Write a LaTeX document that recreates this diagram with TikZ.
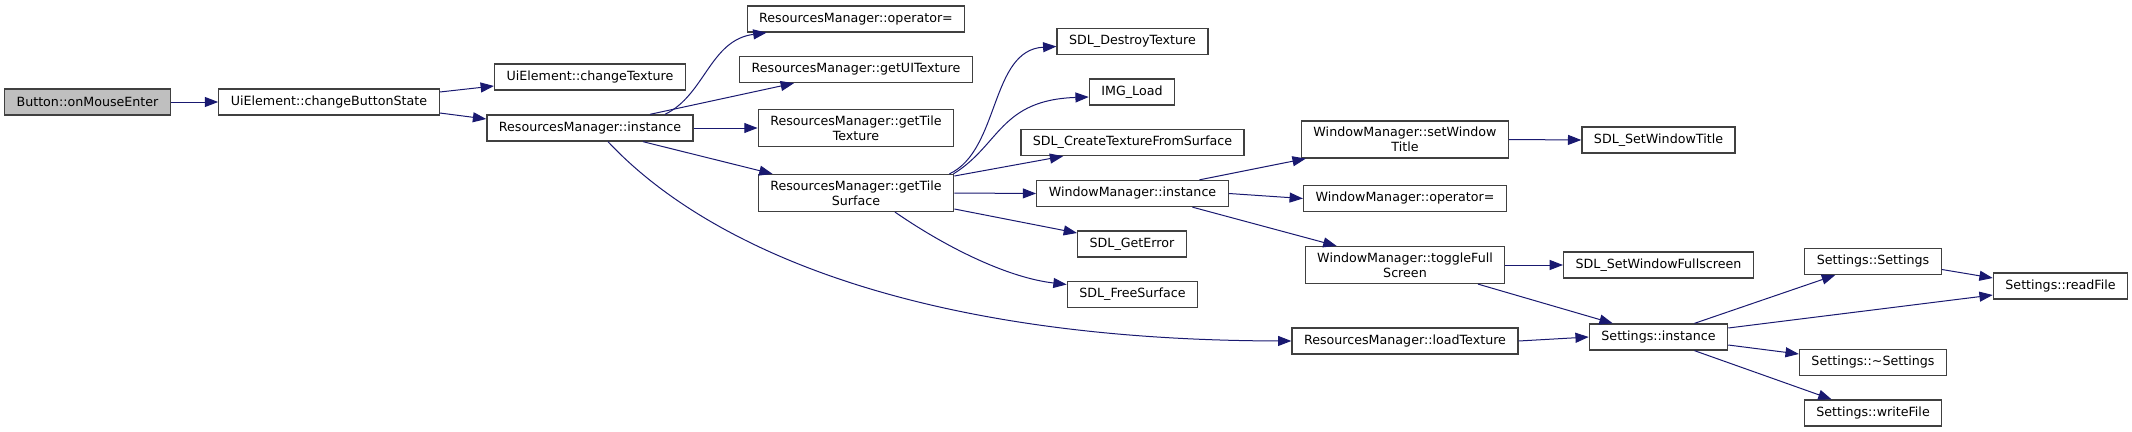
\documentclass[tikz,border=0pt]{standalone}
\usepackage{fontspec}
\setmainfont{DejaVu Sans}
\usepackage{tikz}
\usetikzlibrary{arrows.meta}
\usetikzlibrary{calc}
\definecolor{edgeblue}{HTML}{191970}
\definecolor{boxgray}{HTML}{BFBFBF}
\definecolor{boxline}{HTML}{404040}
\tikzstyle{fn} = [rectangle, draw=boxline, line width=1pt, fill=white, inner xsep=9pt, inner ysep=4.5pt, minimum height=19.5pt, align=center, font=\fontsize{9.5}{11.3}\selectfont]
\tikzstyle{cl} = [draw=edgeblue, line width=0.75pt, -{Triangle[length=10pt,width=7.5pt]}]

\begin{document}
\begin{tikzpicture}[x=0.75pt,y=-0.75pt]
				\useasboundingbox (0,0) rectangle (2132,432);
				\node[fn, fill=boxgray] (bme) at (87.5,102) {Button::onMouseEnter};
				\node[fn] (cbs) at (329,102) {UiElement::changeButtonState};
				\node[fn] (cte) at (590,77) {UiElement::changeTexture};
				\node[fn] (rmi) at (590,128) {ResourcesManager::instance};
				\node[fn] (rmo) at (856,19) {ResourcesManager::operator=};
				\node[fn] (rmu) at (856,69.5) {ResourcesManager::getUITexture};
				\node[fn] (rmt) at (856,128) {ResourcesManager::getTile\\Texture};
				\node[fn] (rms) at (856,193) {ResourcesManager::getTile\\Surface};
				\node[fn] (sdt) at (1132.5,41.5) {SDL\_DestroyTexture};
				\node[fn] (iml) at (1132,92) {IMG\_Load};
				\node[fn] (sct) at (1132.5,142.5) {SDL\_CreateTextureFromSurface};
				\node[fn] (wmi) at (1132.5,193.5) {WindowManager::instance};
				\node[fn] (sge) at (1132,244) {SDL\_GetError};
				\node[fn] (sfs) at (1132.5,294.5) {SDL\_FreeSurface};
				\node[fn] (wmt) at (1405,139.5) {WindowManager::setWindow\\Title};
				\node[fn] (wmo) at (1405,198.5) {WindowManager::operator=};
				\node[fn] (wmf) at (1405,265) {WindowManager::toggleFull\\Screen};
				\node[fn] (rml) at (1405,341) {ResourcesManager::loadTexture};
				\node[fn] (swt) at (1658.5,140) {SDL\_SetWindowTitle};
				\node[fn] (swf) at (1658.5,265) {SDL\_SetWindowFullscreen};
				\node[fn] (sin) at (1658.5,337) {Settings::instance};
				\node[fn] (sse) at (1873,261.5) {Settings::Settings};
				\node[fn] (srf) at (2060.5,286) {Settings::readFile};
				\node[fn] (sds) at (1873,362.5) {Settings::\textasciitilde Settings};
				\node[fn] (swr) at (1873,413) {Settings::writeFile};
				%%%%%%%%%%%%%%%%%%%%%%%%%%%%%%%%%%
				\draw[cl] (bme.east) -- (cbs.west);
				\draw[cl] ($(cbs.east)+(0,-10)$) -- ($(cte.west)+(0,9)$);
				\draw[cl] ($(cbs.east)+(0,11)$) -- ($(rmi.west)+(0,-9)$);
				%%%%%%%%%%%%%%%%%%%%%%%%%%%%%%%%%%
				\draw[cl] ($(rmi.north)+(75,0)$) .. controls (705,95) and (710,40) .. ($(rmo.south west)+(20,0)$);
				\draw[cl] ($(rmi.north)+(60,0)$) -- ($(rmu.south west)+(55,0)$);
				\draw[cl] (rmi.east) -- (rmt.west);
				\draw[cl] ($(rmi.south)+(53,0)$) -- ($(rms.north west)+(15,0)$);
				\draw[cl] ($(rmi.south)+(18,0)$) .. controls (700,240) and (900,340) .. (rml.west);
				%%%%%%%%%%%%%%%%%%%%%%%%%%%%%%%%%%
				\draw[cl] ($(rms.north east)+(-5,0)$) .. controls (1000,150) and (990,50) .. ($(sdt.west)+(0,5)$);
				\draw[cl] ($(rms.north east)+(-1,0)$) .. controls (1000,145) and (1000,100) .. ($(iml.west)+(0,5)$);
				\draw[cl] ($(rms.east)+(0,-17)$) -- ($(sct.south west)+(43,0)$);
				\draw[cl] (rms.east) -- (wmi.west);
				\draw[cl] ($(rms.east)+(0,16)$) -- ($(sge.west)+(0,-11)$);
				\draw[cl] ($(rms.south)+(39,0)$) .. controls (950,250) and (1010,278) .. ($(sfs.west)+(0,-10)$);
				%%%%%%%%%%%%%%%%%%%%%%%%%%%%%%%%%%
				\draw[cl] ($(wmi.north)+(67,0)$) -- ($(wmt.south west)+(5,0)$);
				\draw[cl] (wmi.east) -- (wmo.west);
				\draw[cl] ($(wmi.south)+(60,0)$) -- ($(wmf.north west)+(32,0)$);
				\draw[cl] (wmt.east) -- (swt.west);
				\draw[cl] (wmf.east) -- (swf.west);
				\draw[cl] ($(wmf.south)+(73,0)$) -- ($(sin.north west)+(24,0)$);
				\draw[cl] (rml.east) -- (sin.west);
				%%%%%%%%%%%%%%%%%%%%%%%%%%%%%%%%%%
				\draw[cl] ($(sin.north)+(36,0)$) -- ($(sse.south west)+(31,0)$);
				\draw[cl] ($(sin.east)+(0,-9)$) -- ($(srf.west)+(0,9)$);
				\draw[cl] ($(sin.east)+(0,8)$) -- ($(sds.west)+(0,-8.5)$);
				\draw[cl] ($(sin.south)+(36,0)$) -- ($(swr.north west)+(28,0)$);
				\draw[cl] ($(sse.east)+(0,8)$) -- ($(srf.west)+(0,-8)$);
%				\node at (rmi) {};
			\end{tikzpicture}
\end{document}
